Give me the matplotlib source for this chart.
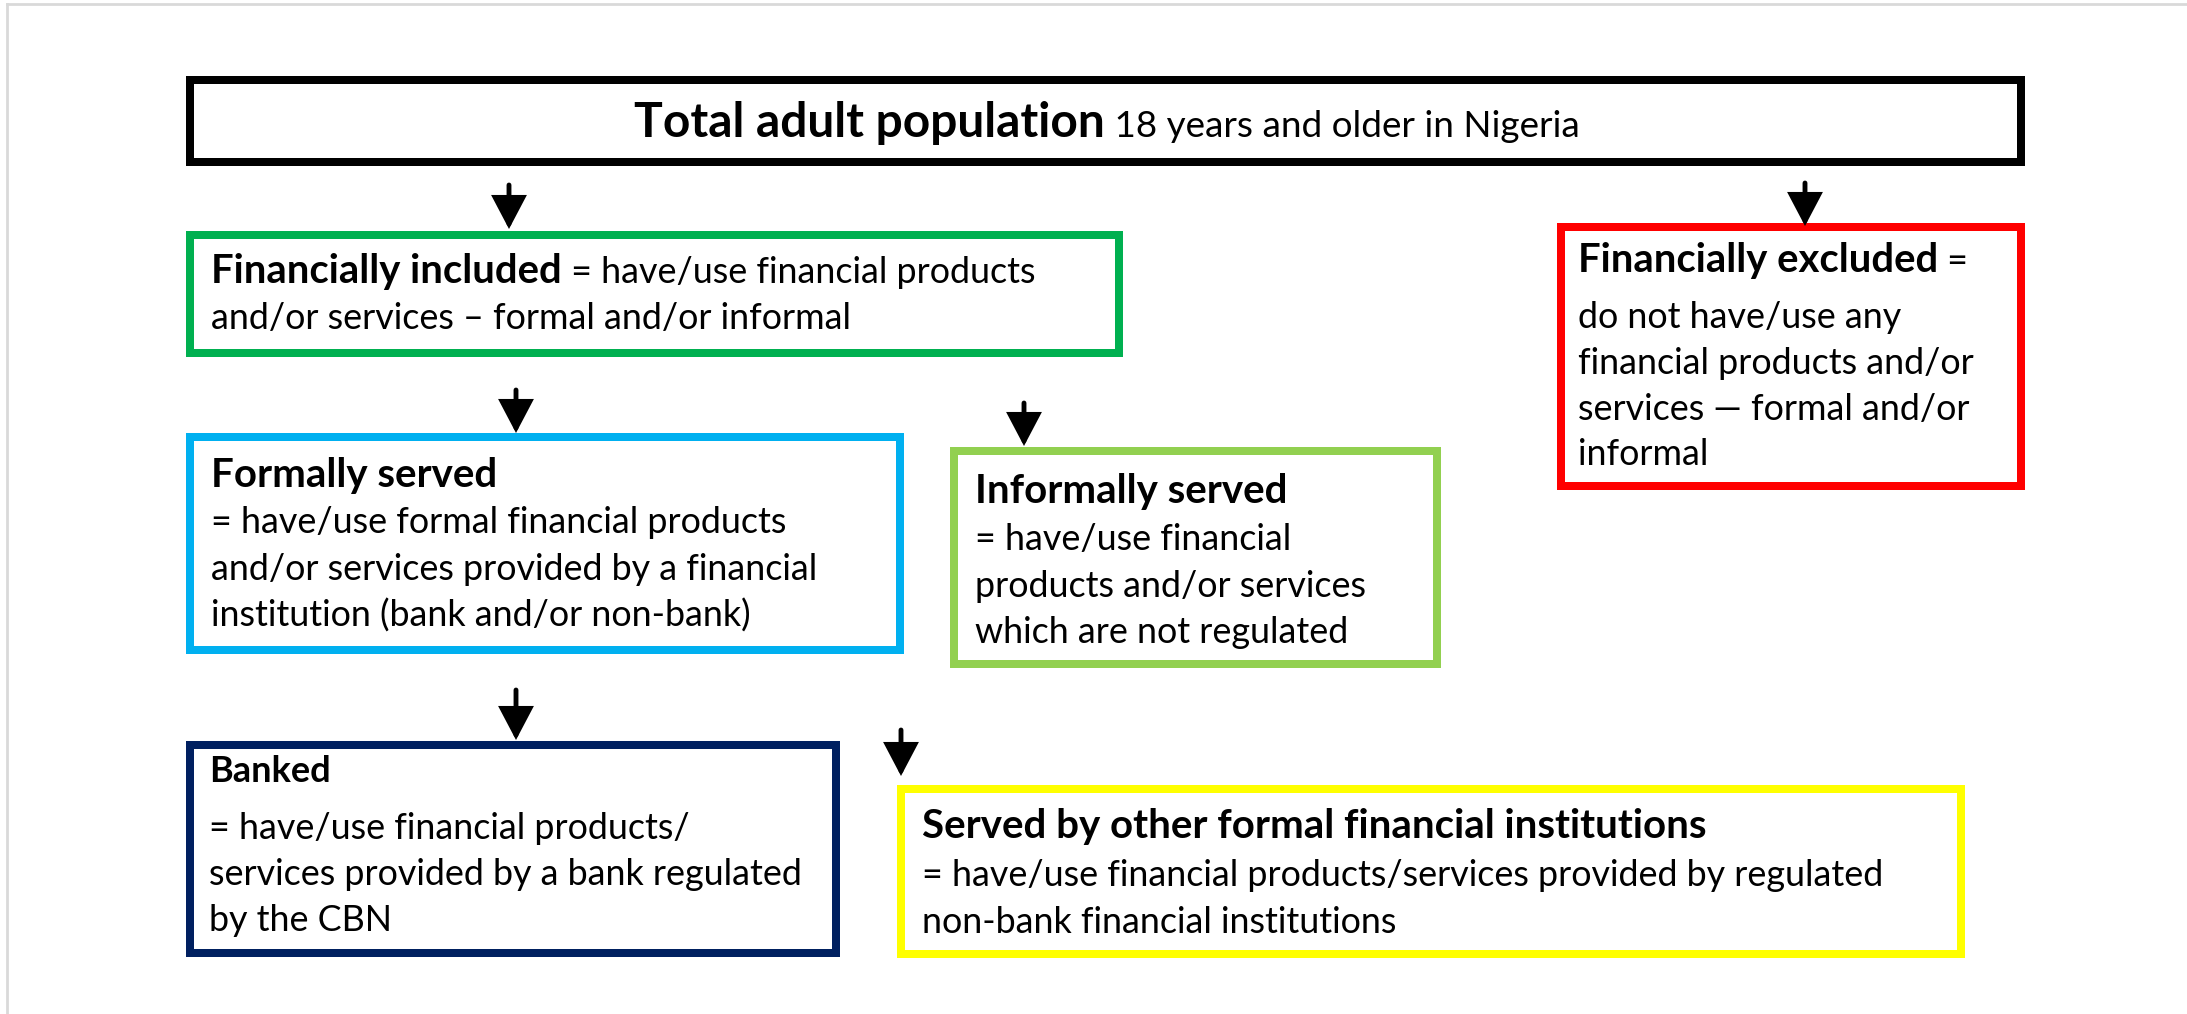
import matplotlib
matplotlib.use("Agg")
import matplotlib.pyplot as plt
from matplotlib.patches import Rectangle, FancyArrowPatch

plt.rcParams['font.family'] = ['Lato', 'DejaVu Sans']

W, H = 2187, 1014

# boxes of the flow diagram
box_names = ["total", "included", "excluded", "formal", "informal", "banked", "other"]
box_colors = ["#000000", "#00B050", "#FF0000", "#00B0F0", "#92D050", "#002060", "#FFFF00"]
headings = ["Total adult population", "Financially included", "Financially excluded",
            "Formally served", "Informally served", "Banked",
            "Served by other formal financial institutions"]
heading_tails = [" 18 years and older in Nigeria", " = have/use financial products", " =",
                 "", "", "", ""]
body_lines = [
    [],
    ["and/or services \u2013 formal and/or informal"],
    ["do not have/use any", "financial products and/or", "services \u2014 formal and/or", "informal"],
    ["= have/use formal financial products", "and/or services provided by a financial",
     "institution (bank and/or non-bank)"],
    ["= have/use financial", "products and/or services", "which are not regulated"],
    ["= have/use financial products/", "services provided by a bank regulated", "by the CBN"],
    ["= have/use financial products/services provided by regulated",
     "non-bank financial institutions"],
]

# layout (pixels from top-left): outer box edges, text anchor, baselines
box_xy = [(186, 76, 2025, 166), (186, 231, 1123, 357), (1557, 223, 2025, 490),
          (186, 433, 904, 654), (950, 447, 1441, 668), (186, 741, 840, 957),
          (897, 785, 1965, 958)]
text_x = [634, 211, 1578, 211, 975, 209, 922]
baselines = [[137], [283, 329], [272, 328, 374, 420, 465], [487, 533, 580, 627],
             [503, 550, 597, 643], [782, 839, 885, 931], [838, 886, 933]]
head_size = [34.5, 28.8, 28.8, 29, 29, 26, 29]
body_size = 25.8
tail_size = [26.6, 25.8, 25.8, 25.8, 25.8, 25.8, 25.8]
arrows = [(509, 185, 229), (1805, 183, 226), (516, 390, 433), (1024, 403, 446),
          (516, 690, 740), (901, 730, 776)]

fig = plt.figure(figsize=(W / 100, H / 100), dpi=100)
ax = fig.add_axes([0, 0, 1, 1])
ax.set_xlim(0, W)
ax.set_ylim(H, 0)
ax.axis("off")

# light page frame
ax.plot([7, 7], [4, H], color="#D9D9D9", lw=2)
ax.plot([7, W], [4, 4], color="#D9D9D9", lw=2)

lw_px = 8
lw_pt = lw_px * 72 / 100
for (x0, y0, x1, y1), col in zip(box_xy, box_colors):
    ax.add_patch(Rectangle((x0 + lw_px / 2, y0 + lw_px / 2), x1 - x0 - lw_px, y1 - y0 - lw_px,
                           fill=False, edgecolor=col, lw=lw_pt, joinstyle="miter"))

renderer = fig.canvas.get_renderer()
inv = ax.transData.inverted()
for i in range(len(box_names)):
    bl = baselines[i]
    t = ax.text(text_x[i], bl[0], headings[i], fontsize=head_size[i], fontweight="bold",
                va="baseline", ha="left", color="black")
    if heading_tails[i]:
        bb = t.get_window_extent(renderer=renderer)
        xe = inv.transform((bb.x1, 0))[0]
        ax.text(xe, bl[0], heading_tails[i], fontsize=tail_size[i], va="baseline", ha="left",
                color="black")
    for line, y in zip(body_lines[i], bl[1:]):
        ax.text(text_x[i], y, line, fontsize=body_size, va="baseline", ha="left", color="black")

for x, ytop, ytip in arrows:
    ax.add_patch(FancyArrowPatch((x, ytop), (x, ytip),
                                 arrowstyle="-|>,head_length=19,head_width=10",
                                 mutation_scale=1, lw=3.5, color="black",
                                 shrinkA=0, shrinkB=0, joinstyle="miter"))

fig.savefig("out.png", dpi=100, facecolor="white")
